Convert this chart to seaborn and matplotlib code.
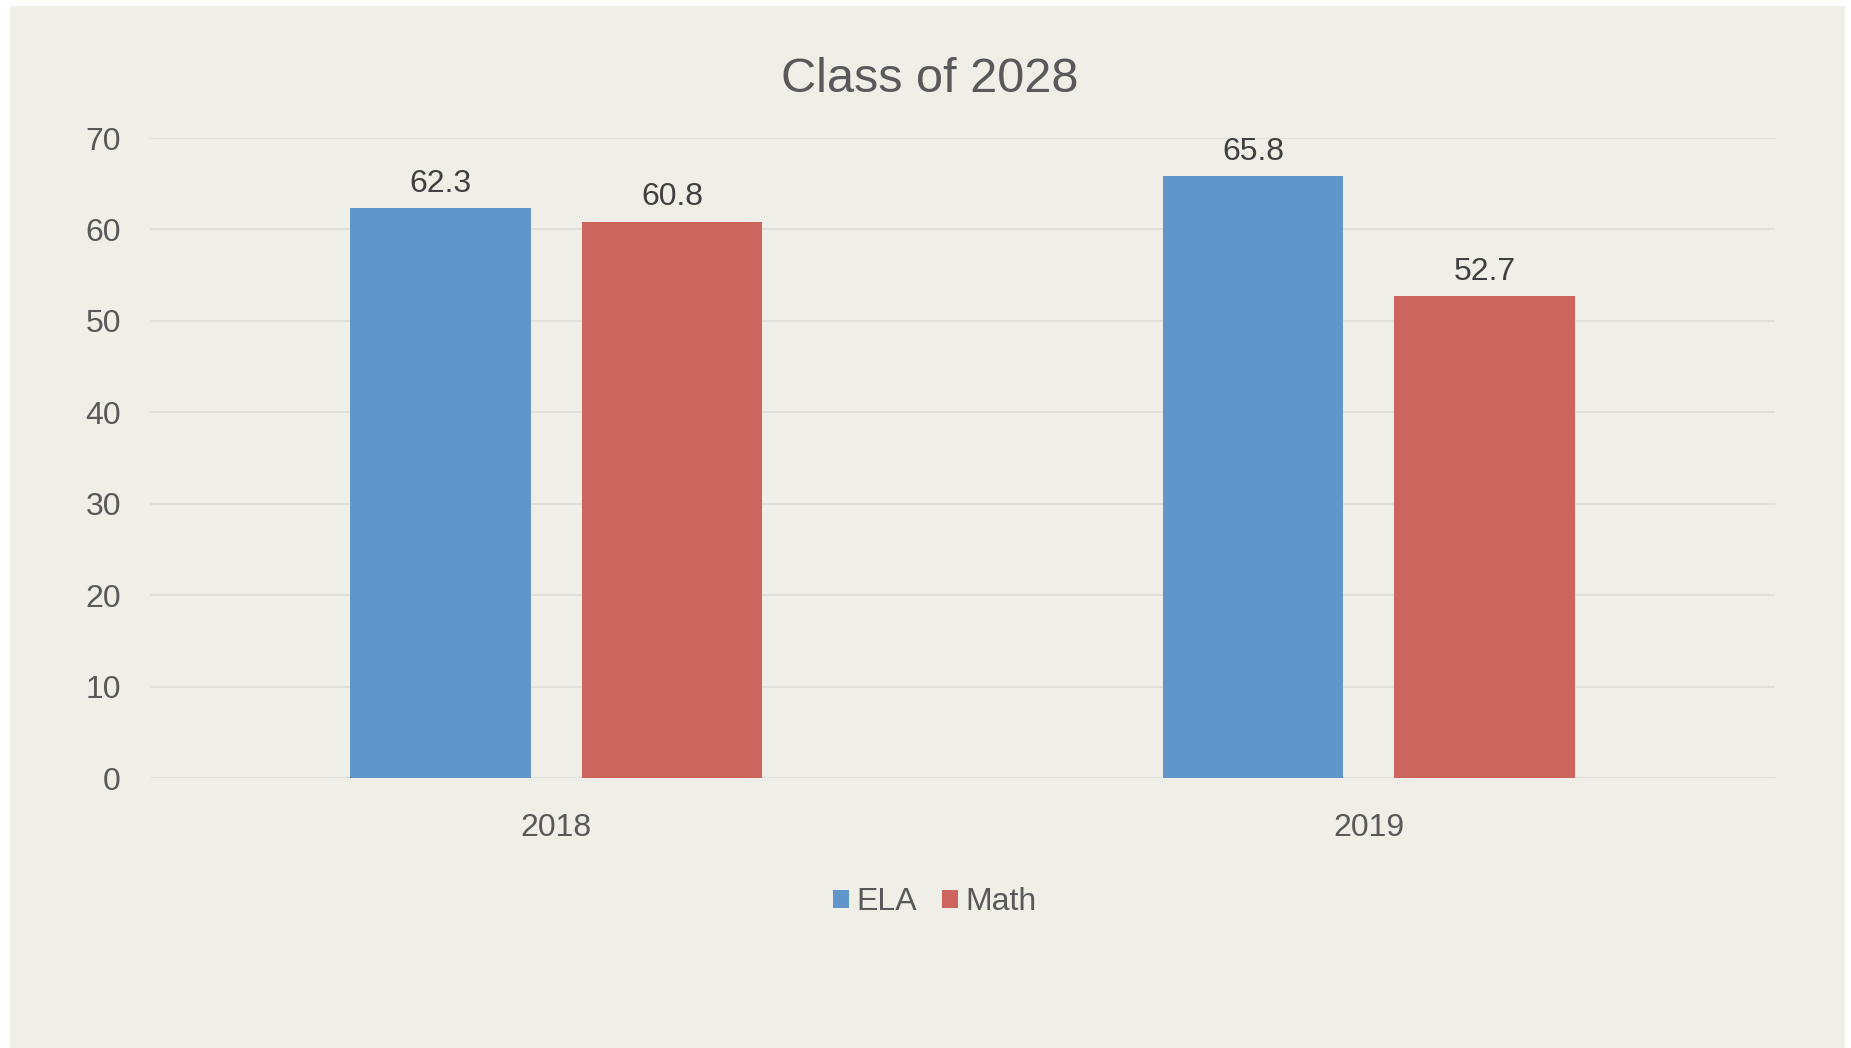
import matplotlib
matplotlib.use("Agg")
import matplotlib.pyplot as plt
import matplotlib.patches as mpatches
import seaborn as sns
import pandas as pd

years = ["2018", "2019"]
subjects = ["ELA", "Math"]
ela_values = [62.3, 65.8]
math_values = [60.8, 52.7]
colors = {"ELA": "#6096C9", "Math": "#CD655F"}
title = "Class of 2028"
yticks = [0, 10, 20, 30, 40, 50, 60, 70]

df = pd.DataFrame({
    "Year": years * 2,
    "Subject": ["ELA"] * len(years) + ["Math"] * len(years),
    "Score": ela_values + math_values,
})

sns.set_theme(style="white")
plt.rcParams["font.family"] = ["Liberation Sans", "DejaVu Sans"]

W, H = 1851, 1048
BG = "#F0EFE7"
FS = 23
fig = plt.figure(figsize=(W / 100, H / 100), dpi=100, facecolor="white")
fig.patches.append(mpatches.Rectangle((10 / W, 0 / H), (1845 - 10) / W, (1042) / H,
                                      transform=fig.transFigure, facecolor=BG,
                                      edgecolor="none", zorder=-10))

ax = fig.add_axes([150 / W, (H - 778) / H, (1775 - 150) / W, (778 - 138) / H])
ax.set_facecolor(BG)

sns.barplot(data=df, x="Year", y="Score", hue="Subject", hue_order=subjects,
            order=years, palette=colors, width=0.57, gap=0.22, ax=ax,
            edgecolor="none", saturation=1, legend=True)

ax.set_xlim(-0.5, 1.5)
ax.set_ylim(0, 70)
ax.set_yticks(yticks)
ax.yaxis.grid(True, color="#E0DFD9", linewidth=1.4)
ax.set_axisbelow(True)
for s in ax.spines.values():
    s.set_visible(False)
ax.tick_params(axis="both", length=0, labelsize=FS, labelcolor="#595959")
ax.tick_params(axis="y", pad=21)
ax.tick_params(axis="x", pad=25)
ax.set_xlabel("")
ax.set_ylabel("")

for container in ax.containers:
    for bar in container:
        h = bar.get_height()
        ax.annotate(f"{h:.1f}", (bar.get_x() + bar.get_width() / 2, h),
                    xytext=(0, 12), textcoords="offset points",
                    ha="center", va="baseline", fontsize=FS, color="#404040")

fig.text(930 / W, 1 - 79 / H, title, ha="center", va="center",
         fontsize=35, color="#595959")

leg = ax.legend(loc="center", bbox_to_anchor=(935 / W, 1 - 902 / H),
                bbox_transform=fig.transFigure, ncol=2, frameon=False,
                fontsize=FS, handlelength=0.5, handleheight=0.5,
                handletextpad=0.22, columnspacing=0.8)
for t in leg.get_texts():
    t.set_color("#595959")

fig.savefig("out.png", dpi=100, facecolor="white")
